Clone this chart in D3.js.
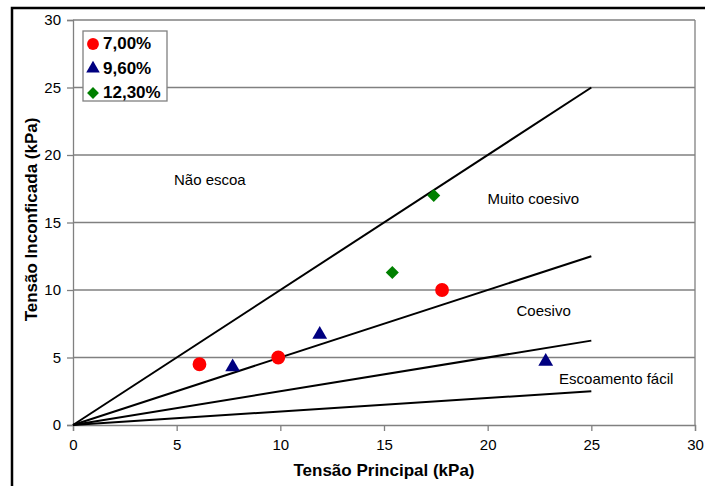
<!DOCTYPE html>
<html>
<head>
<meta charset="utf-8">
<script src="https://cdn.jsdelivr.net/npm/d3@7"></script>
<style>
  body { margin: 0; background: #fff; }
  text { font-family: "Liberation Sans", Arial, sans-serif; }
</style>
</head>
<body>
<svg id="chart"></svg>
<script>
// data
const ticks = [0, 5, 10, 15, 20, 25, 30];
const limitSlopes = [1, 0.5, 0.25, 0.1];
const limitEnd = 25;
const s700 = [[6.1, 4.5], [9.9, 5.0], [17.8, 10.0]];
const s960 = [[7.7, 4.3], [11.9, 6.7], [22.8, 4.7]];
const s1230 = [[15.4, 11.3], [17.4, 17.0]];
const seriesNames = ["7,00%", "9,60%", "12,30%"];
const regionLabels = [
  { text: "Não escoa", x: 6.6, y: 18.1 },
  { text: "Muito coesivo", x: 22.2, y: 16.7 },
  { text: "Coesivo", x: 22.7, y: 8.4 },
  { text: "Escoamento fácil", x: 26.2, y: 3.3 }
];

const width = 705, height = 486;
const margin = { top: 20, right: 10, bottom: 61, left: 73 };

const svg = d3.select("#chart")
  .attr("width", width)
  .attr("height", height);

// outer frame (runs off the right and bottom edge)
svg.append("rect")
  .attr("x", 12).attr("y", 8)
  .attr("width", 720).attr("height", 500)
  .attr("fill", "none")
  .attr("stroke", "#000")
  .attr("stroke-width", 2.5);

const x = d3.scaleLinear().domain([0, 30]).range([margin.left, width - margin.right]);
const y = d3.scaleLinear().domain([0, 30]).range([height - margin.bottom, margin.top]);

// gridlines
svg.append("g")
  .selectAll("line")
  .data(ticks.slice(1))
  .enter()
  .append("line")
  .attr("x1", x(0)).attr("x2", x(30))
  .attr("y1", d => y(d)).attr("y2", d => y(d))
  .attr("stroke", "#808080")
  .attr("stroke-width", 1.3);

// right border of plot area
svg.append("line")
  .attr("x1", x(30)).attr("x2", x(30))
  .attr("y1", y(30)).attr("y2", y(0))
  .attr("stroke", "#808080")
  .attr("stroke-width", 1.3);

// axes
const xAxis = svg.append("g")
  .attr("transform", `translate(0,${y(0)})`)
  .call(d3.axisBottom(x).tickValues(ticks).tickSize(6).tickPadding(8));
const yAxis = svg.append("g")
  .attr("transform", `translate(${x(0)},0)`)
  .call(d3.axisLeft(y).tickValues(ticks).tickSize(6).tickPadding(6));

[xAxis, yAxis].forEach(ax => {
  ax.select(".domain").attr("stroke", "#808080").attr("stroke-width", 1.3);
  ax.selectAll(".tick line").attr("stroke", "#808080").attr("stroke-width", 1.3);
  ax.selectAll(".tick text")
    .attr("fill", "#000")
    .style("font-size", "15px")
    .style("font-family", "'Liberation Sans', Arial, sans-serif");
});

// limit lines
svg.append("g")
  .selectAll("line")
  .data(limitSlopes)
  .enter()
  .append("line")
  .attr("x1", x(0)).attr("y1", y(0))
  .attr("x2", x(limitEnd)).attr("y2", d => y(limitEnd * d))
  .attr("stroke", "#000")
  .attr("stroke-width", 2);

// region labels
svg.append("g")
  .selectAll("text")
  .data(regionLabels)
  .enter()
  .append("text")
  .attr("x", d => x(d.x)).attr("y", d => y(d.y))
  .attr("text-anchor", "middle")
  .attr("dominant-baseline", "middle")
  .style("font-size", "15px")
  .text(d => d.text);

// markers
const circle = d3.symbol().type(d3.symbolCircle).size(150);
const triangle = d3.symbol().type(d3.symbolTriangle).size(95);
const diamond = d3.symbol().type(d3.symbolSquare).size(85);

function drawSeries(data, sym, color, rot) {
  svg.append("g")
    .selectAll("path")
    .data(data)
    .enter()
    .append("path")
    .attr("d", sym)
    .attr("transform", d => `translate(${x(d[0])},${y(d[1])}) rotate(${rot})`)
    .attr("fill", color);
}
drawSeries(s700, circle, "#ff0000", 0);
drawSeries(s960, triangle, "#000080", 0);
drawSeries(s1230, diamond, "#008000", 45);

// legend
const legend = svg.append("g").attr("transform", "translate(83,31)");
legend.append("rect")
  .attr("width", 84).attr("height", 70)
  .attr("fill", "#fff")
  .attr("stroke", "#808080")
  .attr("stroke-width", 1.3);
const legendSyms = [
  d3.symbol().type(d3.symbolCircle).size(110),
  d3.symbol().type(d3.symbolTriangle).size(80),
  d3.symbol().type(d3.symbolSquare).size(70)
];
const legendColors = ["#ff0000", "#000080", "#008000"];
seriesNames.forEach((name, i) => {
  const cy = 13 + i * 24.5;
  legend.append("path")
    .attr("d", legendSyms[i])
    .attr("transform", `translate(10,${cy}) rotate(${i === 2 ? 45 : 0})`)
    .attr("fill", legendColors[i]);
  legend.append("text")
    .attr("x", 20).attr("y", cy + 1)
    .attr("dominant-baseline", "middle")
    .style("font-size", "17px")
    .style("font-weight", "bold")
    .text(name);
});

// axis titles
svg.append("text")
  .attr("x", x(15)).attr("y", 476)
  .attr("text-anchor", "middle")
  .style("font-size", "17px")
  .style("font-weight", "bold")
  .text("Tensão Principal (kPa)");

svg.append("text")
  .attr("transform", `translate(37,${y(15) - 3}) rotate(-90)`)
  .attr("text-anchor", "middle")
  .style("font-size", "17px")
  .style("font-weight", "bold")
  .text("Tensão Inconficada (kPa)");
</script>
</body>
</html>
